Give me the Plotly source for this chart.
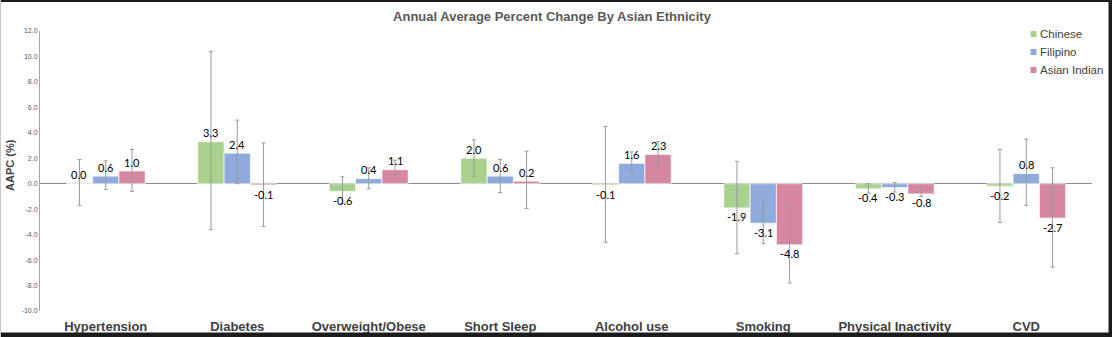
import plotly.graph_objects as go

# Outcome categories and per-ethnicity annual average percent change
categories = ["Hypertension", "Diabetes", "Overweight/Obese", "Short Sleep",
              "Alcohol use", "Smoking", "Physical Inactivity", "CVD"]
series_names = ["Chinese", "Filipino", "Asian Indian"]

chinese = [0.0, 3.3, -0.6, 2.0, -0.1, -1.9, -0.4, -0.2]
filipino = [0.6, 2.4, 0.4, 0.6, 1.6, -3.1, -0.3, 0.8]
asian_indian = [1.0, -0.1, 1.1, 0.2, 2.3, -4.8, -0.8, -2.7]

# 95% confidence limits (upper, lower)
chinese_hi = [1.9, 10.4, 0.55, 3.45, 4.5, 1.75, 0.0, 2.7]
chinese_lo = [-1.7, -3.6, -1.55, 0.55, -4.6, -5.5, -0.75, -3.05]
filipino_hi = [1.8, 5.0, 1.25, 1.9, 2.5, -1.45, 0.1, 3.5]
filipino_lo = [-0.45, 0.0, -0.4, -0.7, 0.9, -4.7, -0.65, -1.7]
asian_indian_hi = [2.7, 3.2, 1.85, 2.55, 3.3, -1.7, -0.45, 1.25]
asian_indian_lo = [-0.6, -3.35, 0.65, -1.95, 1.35, -7.8, -1.0, -6.55]

y_ticks = [12, 10, 8, 6, 4, 2, 0, -2, -4, -6, -8, -10]
y_tick_labels = [f"{v:.1f}" for v in y_ticks]

colors = ["#A9D18E", "#8FAADC", "#D4879F"]

W, H = 1112, 337
ML, MR, MT, MB = 40, 20, 31, 26
PW, PH = W - ML - MR, H - MT - MB
BARGAP = 0.4

FONT = "Arial, Liberation Sans, sans-serif"
LABEL_FONT = "Lato, Carlito, sans-serif"


def px_x(p):
    return (p - ML) / PW


def px_y(p):
    return (H - MB - p) / PH


fig = go.Figure()

data = [
    (chinese, chinese_hi, chinese_lo),
    (filipino, filipino_hi, filipino_lo),
    (asian_indian, asian_indian_hi, asian_indian_lo),
]

annotations = []
n_series = len(series_names)
bar_w = (1 - BARGAP) / n_series

for k, (name, color, (vals, hi, lo)) in enumerate(zip(series_names, colors, data)):
    fig.add_trace(go.Bar(
        x=categories,
        y=vals,
        name=name,
        marker=dict(color=color, line=dict(color="rgba(255,255,255,0.7)", width=1)),
        error_y=dict(
            type="data",
            symmetric=False,
            array=[h - v for h, v in zip(hi, vals)],
            arrayminus=[v - l for v, l in zip(vals, lo)],
            color="#9a9a9a",
            thickness=1,
            width=2,
        ),
        showlegend=False,
    ))
    # value labels just beyond the end of each bar
    offset = (k - (n_series - 1) / 2) * bar_w
    for i, v in enumerate(vals):
        annotations.append(dict(
            x=i + offset, y=v, xref="x", yref="y",
            text=f"{v:.1f}", showarrow=False,
            xanchor="center", yanchor="middle",
            yshift=9 if v >= 0 else -9,
            font=dict(family=LABEL_FONT, size=11, color="#000000"),
        ))

# dark frame around the figure
frame = "#1c1c1c"
shapes = [
    dict(type="rect", xref="paper", yref="paper",
         x0=px_x(0), x1=px_x(W), y0=px_y(0), y1=px_y(2),
         fillcolor=frame, line=dict(width=0), layer="above"),
    dict(type="rect", xref="paper", yref="paper",
         x0=px_x(1108.5), x1=px_x(W), y0=px_y(0), y1=px_y(H),
         fillcolor=frame, line=dict(width=0), layer="above"),
    dict(type="rect", xref="paper", yref="paper",
         x0=px_x(0), x1=px_x(W), y0=px_y(332.5), y1=px_y(H),
         fillcolor=frame, line=dict(width=0), layer="above"),
    dict(type="line", xref="paper", yref="paper",
         x0=px_x(0.5), x1=px_x(0.5), y0=px_y(0), y1=px_y(H),
         line=dict(color="#c8c8c8", width=1), layer="above"),
]

# legend: small colour swatches with series names
legend_rows = [34, 52, 70]
for name, color, row in zip(series_names, colors, legend_rows):
    shapes.append(dict(
        type="rect", xref="paper", yref="paper",
        x0=px_x(1030.5), x1=px_x(1036.5), y0=px_y(row + 3), y1=px_y(row - 3),
        fillcolor=color, line=dict(width=0),
    ))
    annotations.append(dict(
        text=name, xref="paper", yref="paper",
        x=px_x(1038), y=px_y(row), xanchor="left", yanchor="middle",
        showarrow=False,
        font=dict(family=FONT, size=11.5, color="#404040"),
    ))

# y-axis title
annotations.append(dict(
    text="<b>AAPC (%)</b>", xref="paper", yref="paper",
    x=px_x(10), y=px_y(165), xanchor="center", yanchor="middle",
    textangle=-90, showarrow=False,
    font=dict(family=FONT, size=11, color="#404040"),
))

fig.update_layout(
    width=W, height=H,
    margin=dict(l=ML, r=MR, t=MT, b=MB, autoexpand=False),
    paper_bgcolor="white",
    plot_bgcolor="white",
    barmode="group",
    bargap=BARGAP,
    bargroupgap=0,
    showlegend=False,
    title=dict(
        text="<b>Annual Average Percent Change By Asian Ethnicity</b>",
        x=552 / W, xref="container", xanchor="center",
        y=1 - 16 / H, yanchor="middle",
        font=dict(family=FONT, size=13, color="#595959"),
    ),
    shapes=shapes,
    annotations=annotations,
    xaxis=dict(
        automargin=False,
        showgrid=False,
        showline=False,
        ticks="outside",
        ticklen=3,
        tickcolor="rgba(0,0,0,0)",
        tickfont=dict(family=FONT, size=13, color="#404040"),
        tickprefix="<b>", ticksuffix="</b>",
    ),
    yaxis=dict(
        automargin=False,
        range=[-10, 12],
        tickvals=y_ticks,
        ticktext=y_tick_labels,
        tickfont=dict(family=FONT, size=7, color="#595959"),
        showgrid=False,
        showline=True,
        linecolor="#a6a6a6",
        linewidth=1,
        zeroline=True,
        zerolinecolor="#8c8c8c",
        zerolinewidth=1,
        ticks="",
    ),
)

fig.write_html("out.html")
